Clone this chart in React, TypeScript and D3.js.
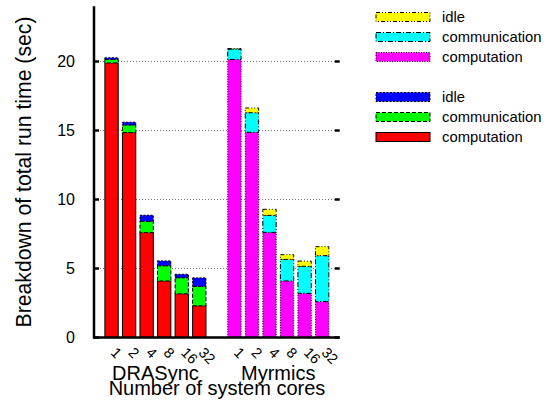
import * as d3 from "d3";
import React from "react";

const cores = ["1", "2", "4", "8", "16", "32"];
const groups = ["DRASync", "Myrmics"];

const drasyncComp = [19.9, 14.85, 7.6, 4.1, 3.17, 2.3];
const drasyncComm = [0.25, 0.55, 0.82, 1.1, 1.16, 1.4];
const drasyncIdle = [0.12, 0.2, 0.44, 0.35, 0.25, 0.62];

const myrmicsComp = [20.15, 14.87, 7.62, 4.1, 3.2, 2.6];
const myrmicsComm = [0.75, 1.42, 1.23, 1.56, 1.96, 3.33];
const myrmicsIdle = [0.03, 0.34, 0.44, 0.34, 0.38, 0.65];

const yTicks = [0, 5, 10, 15, 20];

const keys = ["comp", "comm", "idle"];

const styles = {
  DRASync: {
    comp: { fill: "#ff0000", dash: null },
    comm: { fill: "#00ff00", dash: "4,2" },
    idle: { fill: "#0000ff", dash: "2,1.5" },
  },
  Myrmics: {
    comp: { fill: "#ff00ff", dash: "1,1.5" },
    comm: { fill: "#00ffff", dash: "5,2,1,2" },
    idle: { fill: "#ffff00", dash: "4,2,1,2,1,2" },
  },
};

const legendItems = [
  { group: "Myrmics", key: "idle", label: "idle" },
  { group: "Myrmics", key: "comm", label: "communication" },
  { group: "Myrmics", key: "comp", label: "computation" },
  null,
  { group: "DRASync", key: "idle", label: "idle" },
  { group: "DRASync", key: "comm", label: "communication" },
  { group: "DRASync", key: "comp", label: "computation" },
];

const font = "'Liberation Sans', Arial, Helvetica, sans-serif";

export default function App() {
  const width = 551;
  const height = 405;
  const left = 94;
  const right = 339.7;
  const top = 6.3;
  const bottom = 337.5;

  const x = d3.scaleLinear().domain([-1, 13]).range([left, right]);
  const y = d3.scaleLinear().domain([0, 24]).range([bottom, top]);
  const barW = (x(1) - x(0)) * 0.76;

  const rows = [
    ...cores.map((c, i) => ({
      group: "DRASync",
      core: c,
      slot: i,
      comp: drasyncComp[i],
      comm: drasyncComm[i],
      idle: drasyncIdle[i],
    })),
    ...cores.map((c, i) => ({
      group: "Myrmics",
      core: c,
      slot: i + 7,
      comp: myrmicsComp[i],
      comm: myrmicsComm[i],
      idle: myrmicsIdle[i],
    })),
  ];

  const series = d3.stack().keys(keys)(rows as any);

  return (
    <svg
      width={width}
      height={height}
      style={{ position: "absolute", left: 0, top: 0, background: "#fff" }}
      fontFamily={font}
    >
      {/* grid */}
      {yTicks
        .filter((t) => t > 0)
        .map((t) => (
          <line
            key={"g" + t}
            x1={left}
            x2={right - 5}
            y1={y(t)}
            y2={y(t)}
            stroke="#777"
            strokeWidth={1}
            strokeDasharray="1,2"
          />
        ))}

      {/* bars */}
      {series.map((s) =>
        s.map((d: any, i) => {
          const row = rows[i];
          const st = (styles as any)[row.group][s.key];
          const h = y(d[0]) - y(d[1]);
          if (h <= 0.2) return null;
          return (
            <rect
              key={s.key + i}
              x={x(row.slot) - barW / 2}
              y={y(d[1])}
              width={barW}
              height={h}
              fill={st.fill}
              stroke="#000"
              strokeWidth={1}
              strokeDasharray={st.dash || undefined}
            />
          );
        })
      )}

      {/* axes */}
      <line x1={left} x2={left} y1={top} y2={bottom + 1} stroke="#000" strokeWidth={2.5} />
      <line x1={left - 1} x2={right} y1={bottom} y2={bottom} stroke="#000" strokeWidth={2.5} />
      {yTicks.map((t) => (
        <g key={"t" + t}>
          <line x1={left} x2={left + 5} y1={y(t)} y2={y(t)} stroke="#000" strokeWidth={2.5} />
          <line x1={right - 5} x2={right} y1={y(t)} y2={y(t)} stroke="#000" strokeWidth={2.5} />
          <text x={75} y={y(t)} dy="0.36em" textAnchor="end" fontSize={16}>
            {t}
          </text>
        </g>
      ))}

      {/* x tick labels */}
      {rows.map((r, i) => (
        <text
          key={"xl" + i}
          transform={`translate(${x(r.slot) - 1.5},${bottom + 16}) rotate(45)`}
          fontSize={14.5}
        >
          {r.core}
        </text>
      ))}

      {groups.map((g, gi) => (
        <text key={g} x={x(gi * 7 + 2.5)} y={380} textAnchor="middle" fontSize={20}>
          {g}
        </text>
      ))}
      <text x={(108 + 326) / 2} y={395} textAnchor="middle" fontSize={20}>
        Number of system cores
      </text>

      <text transform="translate(31,172) rotate(-90)" textAnchor="middle" fontSize={21.2}>
        Breakdown of total run time (sec)
      </text>

      {/* legend */}
      {legendItems.map((it, i) => {
        if (!it) return null;
        const st = (styles as any)[it.group][it.key];
        const cy = 17 + i * 20;
        return (
          <g key={"lg" + i}>
            <rect
              x={376}
              y={cy - 4.5}
              width={54}
              height={9}
              fill={st.fill}
              stroke="#000"
              strokeWidth={1}
              strokeDasharray={st.dash || undefined}
            />
            <text x={442} y={cy} dy="0.36em" fontSize={14.8}>
              {it.label}
            </text>
          </g>
        );
      })}
    </svg>
  );
}
